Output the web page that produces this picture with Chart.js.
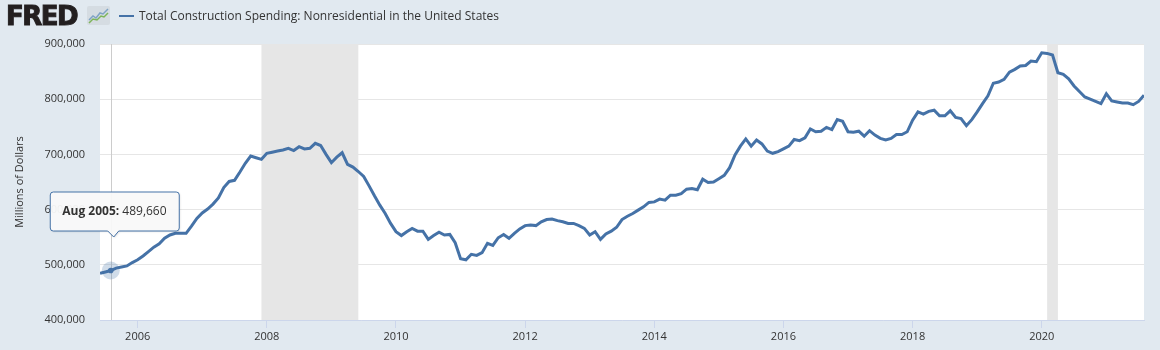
<!DOCTYPE html>
<html>
<head>
<meta charset="utf-8">
<script src="https://cdn.jsdelivr.net/npm/chart.js@4"></script>
<style>
  html, body { margin: 0; padding: 0; background: #e1e9f0; }
  #wrap { position: relative; width: 1160px; height: 350px; }
  #logo { position: absolute; left: 6px; top: 1px; font: bold 26px "DejaVu Sans", sans-serif; letter-spacing: -1.5px; color: #231f20; line-height: 30px; -webkit-text-stroke: 1px #231f20; }
  #icon { position: absolute; left: 87px; top: 6px; }
  #legend { position: absolute; left: 119px; top: 7px; font: 12px "Open Sans", sans-serif; color: #333; white-space: nowrap; }
  #legend span.sw { display: inline-block; width: 15px; height: 2px; background: #4572a7; vertical-align: middle; margin-right: 5px; position: relative; top: -1px; }
</style>
</head>
<body>
<div id="wrap">
  <div id="logo">FRED</div>
  <svg id="icon" width="23" height="19" viewBox="0 0 23 19">
    <rect x="0" y="0" width="23" height="19" rx="2" fill="#d5dce2"/>
    <polyline points="2,14 6,10 9,12 13,7 16,8 21,3" fill="none" stroke="#7fa3c4" stroke-width="1.5"/>
    <polyline points="2,17 6,13 10,14 14,10 17,11 21,7" fill="none" stroke="#7db55a" stroke-width="1.5"/>
  </svg>
  <div id="legend"><span class="sw"></span>Total Construction Spending: Nonresidential in the United States</div>
  <canvas id="chart" width="1160" height="350"></canvas>
</div>
<script>
// monthly data, Jun 2005 .. Aug 2021, millions of dollars
const firstMonth = "2005-06";
const values = [
  484500, 487000, 489660, 494000, 496000, 498000, 504000,
  509000, 516000, 524000, 532000, 538000, 548000, 554000, 557000, 557000, 557000, 570000, 584000,
  594000, 601000, 610000, 621000, 640000, 651000, 653000, 668000, 684000, 697000, 694000, 691000,
  702000, 704000, 706000, 708000, 711000, 707000, 714000, 710000, 711000, 720000, 716000, 700000,
  685000, 695000, 703000, 682000, 677000, 669000, 660000, 643000, 625000, 608000, 593000, 575000,
  560000, 553000, 560000, 566000, 561000, 561000, 546000, 553000, 559000, 554000, 555000, 540000,
  511000, 509000, 519000, 517000, 522000, 539000, 535000, 549000, 555000, 548000, 557000, 565000,
  571000, 572000, 571000, 578000, 582000, 583000, 580000, 578000, 575000, 575000, 571000, 566000,
  554000, 560000, 546000, 556000, 561000, 568000, 582000, 588000, 593000, 599000, 605000, 613000,
  614000, 619000, 617000, 626000, 626000, 629000, 637000, 638000, 636000, 655000, 649000, 650000,
  656000, 662000, 676000, 699000, 715000, 728000, 715000, 726000, 719000, 706000, 702000, 705000,
  710000, 715000, 727000, 725000, 730000, 746000, 741000, 742000, 749000, 745000, 763000, 760000,
  741000, 740000, 742000, 733000, 743000, 735000, 729000, 726000, 729000, 736000, 736000, 741000,
  762000, 777000, 773000, 778000, 780000, 770000, 770000, 779000, 767000, 765000, 752000, 763000,
  777000, 792000, 806000, 829000, 831000, 836000, 849000, 854000, 860000, 861000, 869000, 868000,
  884000, 883000, 880000, 848000, 845000, 837000, 824000, 814000, 804000, 800000, 796000, 792000,
  810000, 797000, 795000, 793000, 793000, 790000, 796000, 807000
];
const xTickLabels = ["2006", "2008", "2010", "2012", "2014", "2016", "2018", "2020"];
const yTicks = [400000, 500000, 600000, 700000, 800000, 900000];
const recessions = [["2007-12", "2009-06"], ["2020-02", "2020-04"]];
const hoverMonth = "2005-08";

const monthNames = ["Jan","Feb","Mar","Apr","May","Jun","Jul","Aug","Sep","Oct","Nov","Dec"];
const toIdx = s => { const [y, m] = s.split("-").map(Number); return (y - 2005) * 12 + (m - 1); };
const start = toIdx(firstMonth);
const points = values.map((v, i) => ({ x: start + i, y: v }));
const tickIdx = xTickLabels.map(l => toIdx(l + "-01"));
const fmt = v => v.toLocaleString("en-US");

const bgPlugin = {
  id: "bg",
  beforeDraw(chart) {
    const { ctx, chartArea: a, scales: { x } } = chart;
    ctx.save();
    ctx.fillStyle = "#ffffff";
    ctx.fillRect(a.left, a.top, a.right - a.left, a.bottom - a.top);
    ctx.fillStyle = "#e6e6e6";
    recessions.forEach(([s, e]) => {
      const x0 = x.getPixelForValue(toIdx(s));
      const x1 = x.getPixelForValue(toIdx(e));
      ctx.fillRect(x0, a.top, x1 - x0, a.bottom - a.top);
    });
    ctx.restore();
  },
  beforeDatasetsDraw(chart) {
    const { ctx, chartArea: a, scales: { x } } = chart;
    const px = Math.round(x.getPixelForValue(toIdx(hoverMonth))) + 0.5;
    ctx.save();
    ctx.strokeStyle = "#cccccc";
    ctx.lineWidth = 1;
    ctx.beginPath();
    ctx.moveTo(px, a.top);
    ctx.lineTo(px, a.bottom);
    ctx.stroke();
    ctx.restore();
  }
};

const tipPlugin = {
  id: "tip",
  afterDatasetsDraw(chart) {
    const { ctx, scales: { x, y } } = chart;
    const hi = toIdx(hoverMonth);
    const hv = values[hi - start];
    const px = x.getPixelForValue(hi), py = y.getPixelForValue(hv);
    ctx.save();
    // halo + marker
    ctx.fillStyle = "rgba(69,114,167,0.25)";
    ctx.beginPath(); ctx.arc(px, py, 9, 0, Math.PI * 2); ctx.fill();
    ctx.fillStyle = "#4572a7";
    ctx.beginPath(); ctx.arc(px, py, 2.8, 0, Math.PI * 2); ctx.fill();
    // box
    const l = px - 60.5, t = py - 78.5, w = 129, h = 39, r = 3;
    const b = t + h;
    ctx.beginPath();
    ctx.moveTo(l + r, t);
    ctx.lineTo(l + w - r, t); ctx.quadraticCurveTo(l + w, t, l + w, t + r);
    ctx.lineTo(l + w, b - r); ctx.quadraticCurveTo(l + w, b, l + w - r, b);
    ctx.lineTo(px + 8, b); ctx.lineTo(px + 3, b + 6); ctx.lineTo(px - 3, b);
    ctx.lineTo(l + r, b); ctx.quadraticCurveTo(l, b, l, b - r);
    ctx.lineTo(l, t + r); ctx.quadraticCurveTo(l, t, l + r, t);
    ctx.closePath();
    ctx.shadowColor = "rgba(0,0,0,0.12)";
    ctx.shadowOffsetX = 1; ctx.shadowOffsetY = 1; ctx.shadowBlur = 2;
    ctx.fillStyle = "rgba(250,250,250,0.95)";
    ctx.fill();
    ctx.shadowColor = "transparent";
    ctx.strokeStyle = "#4572a7";
    ctx.lineWidth = 1;
    ctx.stroke();
    // text
    const label = monthNames[hi % 12] + " " + (2005 + Math.floor(hi / 12)) + ":";
    ctx.textBaseline = "middle";
    ctx.fillStyle = "#333333";
    ctx.font = "bold 12px 'Open Sans', sans-serif";
    ctx.fillText(label, l + 12, t + 20);
    const lw = ctx.measureText(label).width;
    ctx.font = "12px 'Open Sans', sans-serif";
    ctx.fillText(" " + fmt(hv), l + 12 + lw, t + 20);
    ctx.restore();
  }
};

const ctx = document.getElementById("chart").getContext("2d");
new Chart(ctx, {
  type: "line",
  data: {
    datasets: [{
      label: "Total Construction Spending: Nonresidential in the United States",
      data: points,
      borderColor: "#4572a7",
      borderWidth: 3,
      pointRadius: 0,
      tension: 0,
      fill: false
    }]
  },
  options: {
    responsive: false,
    animation: false,
    events: [],
    layout: { padding: { top: 44, right: 16, bottom: 0, left: 0 } },
    plugins: { legend: { display: false }, tooltip: { enabled: false } },
    scales: {
      x: {
        type: "linear",
        min: start,
        max: start + values.length - 1,
        afterFit: s => { s.height = 30; },
        afterBuildTicks: s => { s.ticks = tickIdx.map(v => ({ value: v })); },
        grid: { drawOnChartArea: false, drawTicks: true, tickLength: 8, color: "#ccd6eb" },
        border: { color: "#ccd6eb" },
        ticks: {
          padding: 2,
          color: "#333333",
          font: { family: "Open Sans", size: 11 },
          maxRotation: 0,
          callback: v => xTickLabels[tickIdx.indexOf(v)]
        }
      },
      y: {
        min: 400000,
        max: 900000,
        afterFit: s => { s.width = 100; },
        afterBuildTicks: s => { s.ticks = yTicks.map(v => ({ value: v })); },
        grid: { color: "#e6e6e6", drawTicks: false },
        border: { display: false },
        ticks: {
          padding: 15,
          color: "#333333",
          font: { family: "Open Sans", size: 11 },
          callback: v => fmt(v)
        },
        title: {
          display: true,
          text: "Millions of Dollars",
          color: "#333333",
          font: { family: "Open Sans", size: 11 },
          padding: { top: 13, bottom: 0 }
        }
      }
    }
  },
  plugins: [bgPlugin, tipPlugin]
});
</script>
</body>
</html>
